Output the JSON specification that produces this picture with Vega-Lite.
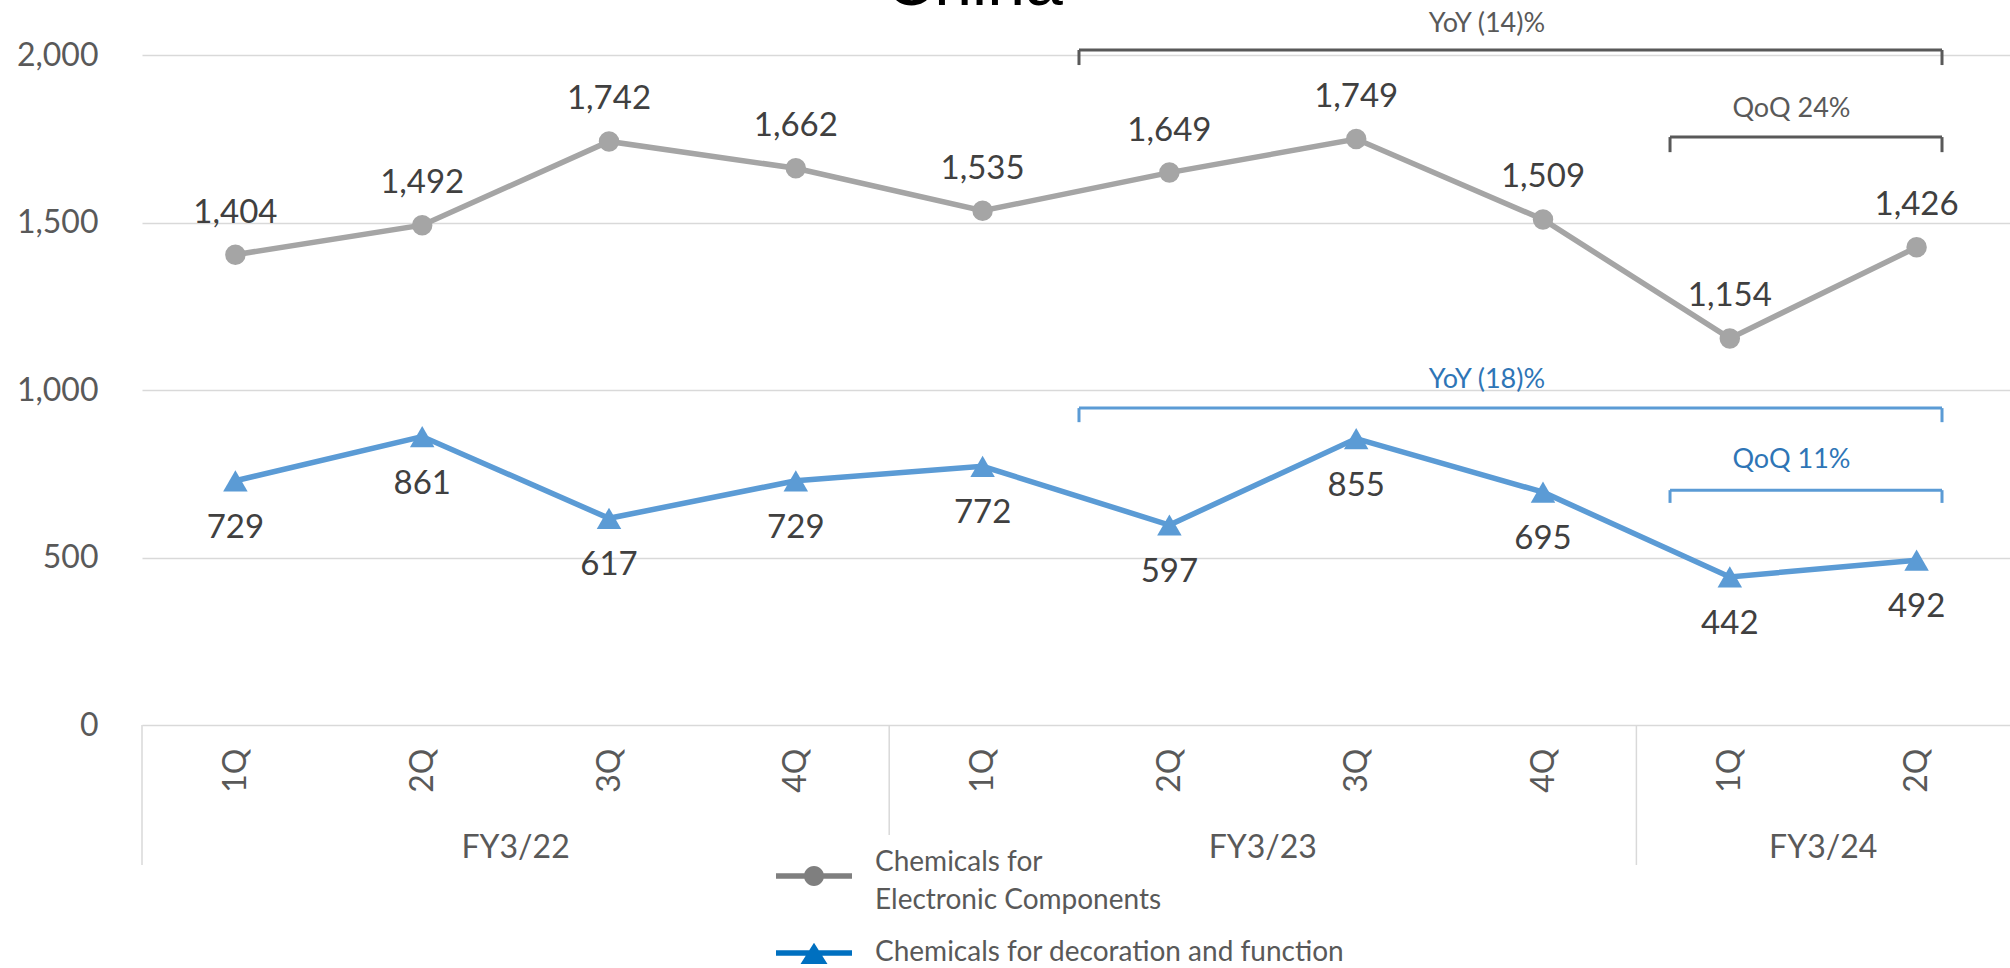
{
  "$schema": "https://vega.github.io/schema/vega-lite/v6.json",
  "width": 1868,
  "height": 670,
  "autosize": {"type": "none"},
  "padding": {"left": 142, "top": 55, "right": 0, "bottom": 243},
  "background": "white",
  "config": {"view": {"stroke": null}, "font": "Lato"},
  "datasets": {
    "sales": [
      {"q": 0, "quarter": "1Q", "fy": "FY3/22", "series": "Chemicals for Electronic Components", "value": 1404},
      {"q": 1, "quarter": "2Q", "fy": "FY3/22", "series": "Chemicals for Electronic Components", "value": 1492},
      {"q": 2, "quarter": "3Q", "fy": "FY3/22", "series": "Chemicals for Electronic Components", "value": 1742},
      {"q": 3, "quarter": "4Q", "fy": "FY3/22", "series": "Chemicals for Electronic Components", "value": 1662},
      {"q": 4, "quarter": "1Q", "fy": "FY3/23", "series": "Chemicals for Electronic Components", "value": 1535},
      {"q": 5, "quarter": "2Q", "fy": "FY3/23", "series": "Chemicals for Electronic Components", "value": 1649},
      {"q": 6, "quarter": "3Q", "fy": "FY3/23", "series": "Chemicals for Electronic Components", "value": 1749},
      {"q": 7, "quarter": "4Q", "fy": "FY3/23", "series": "Chemicals for Electronic Components", "value": 1509},
      {"q": 8, "quarter": "1Q", "fy": "FY3/24", "series": "Chemicals for Electronic Components", "value": 1154},
      {"q": 9, "quarter": "2Q", "fy": "FY3/24", "series": "Chemicals for Electronic Components", "value": 1426},
      {"q": 0, "quarter": "1Q", "fy": "FY3/22", "series": "Chemicals for decoration and function", "value": 729},
      {"q": 1, "quarter": "2Q", "fy": "FY3/22", "series": "Chemicals for decoration and function", "value": 861},
      {"q": 2, "quarter": "3Q", "fy": "FY3/22", "series": "Chemicals for decoration and function", "value": 617},
      {"q": 3, "quarter": "4Q", "fy": "FY3/22", "series": "Chemicals for decoration and function", "value": 729},
      {"q": 4, "quarter": "1Q", "fy": "FY3/23", "series": "Chemicals for decoration and function", "value": 772},
      {"q": 5, "quarter": "2Q", "fy": "FY3/23", "series": "Chemicals for decoration and function", "value": 597},
      {"q": 6, "quarter": "3Q", "fy": "FY3/23", "series": "Chemicals for decoration and function", "value": 855},
      {"q": 7, "quarter": "4Q", "fy": "FY3/23", "series": "Chemicals for decoration and function", "value": 695},
      {"q": 8, "quarter": "1Q", "fy": "FY3/24", "series": "Chemicals for decoration and function", "value": 442},
      {"q": 9, "quarter": "2Q", "fy": "FY3/24", "series": "Chemicals for decoration and function", "value": 492}
    ],
    "seps": [
      {"sx": -0.5, "sy1": 0, "sy2": -418},
      {"sx": 3.5, "sy1": 0, "sy2": -328},
      {"sx": 7.5, "sy1": 0, "sy2": -418}
    ],
    "fys": [
      {"fx": 1.5, "fyv": -397, "fy": "FY3/22"},
      {"fx": 5.5, "fyv": -397, "fy": "FY3/23"},
      {"fx": 8.5, "fyv": -397, "fy": "FY3/24"}
    ],
    "annot": [
      {"grp": "gray", "label": "YoY (14)%", "xa": 4.516, "xb": 9.136, "yl": 2015, "yt": 1970, "tx": 6.7, "ty": 2069},
      {"grp": "gray", "label": "QoQ 24%", "xa": 7.68, "xb": 9.136, "yl": 1755, "yt": 1710, "tx": 8.33, "ty": 1815},
      {"grp": "blue", "label": "YoY (18)%", "xa": 4.516, "xb": 9.136, "yl": 946, "yt": 904, "tx": 6.7, "ty": 1006},
      {"grp": "blue", "label": "QoQ 11%", "xa": 7.68, "xb": 9.136, "yl": 701, "yt": 663, "tx": 8.33, "ty": 767}
    ],
    "heading": [
      {"text": "China", "hx": 3.954, "hy": 2149}
    ]
  },
  "layer": [
    {
      "data": {"name": "sales"},
      "transform": [{"filter": "datum.series == 'Chemicals for Electronic Components'"}],
      "mark": {"type": "line", "color": "#a5a5a5", "strokeWidth": 5.5, "point": {"filled": true, "size": 420, "color": "#a5a5a5", "opacity": 1}},
      "encoding": {
        "x": {
          "field": "q", "type": "quantitative",
          "scale": {"domain": [-0.5, 9.5], "nice": false, "zero": false},
          "axis": {
            "title": null, "values": [0, 1, 2, 3, 4, 5, 6, 7, 8, 9],
            "labelExpr": "['1Q','2Q','3Q','4Q','1Q','2Q','3Q','4Q','1Q','2Q'][datum.value]",
            "labelAngle": 270, "labelPadding": 23, "labelFont": "Lato", "labelFontSize": 32,
            "labelColor": "#595959", "domain": false, "ticks": false, "grid": false, "labelOverlap": false
          }
        },
        "y": {
          "field": "value", "type": "quantitative",
          "scale": {"domain": [0, 2000], "nice": false},
          "axis": {
            "title": null, "values": [0, 500, 1000, 1500, 2000], "format": ",.0f",
            "labelFont": "Lato", "labelFontSize": 32, "labelColor": "#595959", "labelPadding": 44,
            "domain": false, "ticks": false, "grid": true, "gridColor": "#d9d9d9", "gridWidth": 1.5
          }
        }
      }
    },
    {
      "data": {"name": "sales"},
      "transform": [{"filter": "datum.series == 'Chemicals for decoration and function'"}],
      "mark": {"type": "line", "color": "#5b9bd5", "strokeWidth": 5.5, "point": {"filled": true, "size": 600, "shape": "triangle-up", "color": "#5b9bd5", "opacity": 1}},
      "encoding": {
        "x": {"field": "q", "type": "quantitative"},
        "y": {"field": "value", "type": "quantitative"}
      }
    },
    {
      "data": {"name": "seps"},
      "mark": {"type": "rule", "color": "#d9d9d9", "strokeWidth": 1.5},
      "encoding": {
        "x": {"field": "sx", "type": "quantitative"},
        "y": {"field": "sy1", "type": "quantitative"},
        "y2": {"field": "sy2"}
      }
    },
    {
      "data": {"name": "fys"},
      "mark": {"type": "text", "font": "Lato", "fontSize": 32, "color": "#595959", "baseline": "alphabetic", "align": "center"},
      "encoding": {
        "x": {"field": "fx", "type": "quantitative"},
        "y": {"field": "fyv", "type": "quantitative"},
        "text": {"field": "fy"}
      }
    },
    {
      "data": {"name": "heading"},
      "mark": {"type": "text", "font": "Liberation Sans", "fontSize": 68, "color": "#000000", "baseline": "alphabetic", "align": "center"},
      "encoding": {
        "x": {"field": "hx", "type": "quantitative"},
        "y": {"field": "hy", "type": "quantitative"},
        "text": {"field": "text"}
      }
    },
    {
      "data": {"name": "sales"},
      "transform": [{"filter": "datum.series == 'Chemicals for Electronic Components'"}],
      "mark": {"type": "text", "font": "Lato", "fontSize": 33, "color": "#404040", "baseline": "alphabetic", "align": "center", "dy": -32},
      "encoding": {
        "x": {"field": "q", "type": "quantitative"},
        "y": {"field": "value", "type": "quantitative"},
        "text": {"field": "value", "type": "quantitative", "format": ","}
      }
    },
    {
      "data": {"name": "sales"},
      "transform": [{"filter": "datum.series == 'Chemicals for decoration and function'"}],
      "mark": {"type": "text", "font": "Lato", "fontSize": 33, "color": "#404040", "baseline": "alphabetic", "align": "center", "dy": 57},
      "encoding": {
        "x": {"field": "q", "type": "quantitative"},
        "y": {"field": "value", "type": "quantitative"},
        "text": {"field": "value", "type": "quantitative", "format": ","}
      }
    },
    {
      "data": {"name": "annot"},
      "mark": {"type": "rule", "strokeWidth": 3},
      "encoding": {
        "x": {"field": "xa", "type": "quantitative"},
        "x2": {"field": "xb"},
        "y": {"field": "yl", "type": "quantitative"},
        "color": {"condition": {"test": "datum.grp == 'blue'", "value": "#5b9bd5"}, "value": "#595959"}
      }
    },
    {
      "data": {"name": "annot"},
      "mark": {"type": "rule", "strokeWidth": 3},
      "encoding": {
        "x": {"field": "xa", "type": "quantitative"},
        "y": {"field": "yl", "type": "quantitative"},
        "y2": {"field": "yt"},
        "color": {"condition": {"test": "datum.grp == 'blue'", "value": "#5b9bd5"}, "value": "#595959"}
      }
    },
    {
      "data": {"name": "annot"},
      "mark": {"type": "rule", "strokeWidth": 3},
      "encoding": {
        "x": {"field": "xb", "type": "quantitative"},
        "y": {"field": "yl", "type": "quantitative"},
        "y2": {"field": "yt"},
        "color": {"condition": {"test": "datum.grp == 'blue'", "value": "#5b9bd5"}, "value": "#595959"}
      }
    },
    {
      "data": {"name": "annot"},
      "mark": {"type": "text", "font": "Lato", "fontSize": 27, "baseline": "alphabetic", "align": "center"},
      "encoding": {
        "x": {"field": "tx", "type": "quantitative"},
        "y": {"field": "ty", "type": "quantitative"},
        "text": {"field": "label"},
        "color": {"condition": {"test": "datum.grp == 'blue'", "value": "#2e75b6"}, "value": "#595959"}
      }
    },
    {
      "data": {"name": "sales"},
      "mark": {"type": "point", "filled": true, "opacity": 0},
      "encoding": {
        "x": {"field": "q", "type": "quantitative"},
        "y": {"field": "value", "type": "quantitative"},
        "color": {
          "field": "series", "type": "nominal",
          "scale": {"domain": ["Chemicals for Electronic Components", "Chemicals for decoration and function"], "range": ["#7f7f7f", "#0070c0"]},
          "legend": {
            "orient": "none", "legendX": 634, "legendY": 783, "title": null, "padding": 0,
            "symbolSize": 5776, "symbolStrokeWidth": 0, "symbolOpacity": 1,
            "labelFont": "Lato", "labelFontSize": 28, "labelColor": "#595959", "labelOffset": 23, "labelLimit": 0,
            "rowPadding": -13,
            "labelExpr": "datum.label == 'Chemicals for Electronic Components' ? ['Chemicals for', 'Electronic Components'] : datum.label",
            "encode": {"labels": {"update": {
              "lineHeight": {"value": 38},
              "dy": {"signal": "datum.label == 'Chemicals for Electronic Components' ? -13 : 0"}
            }}}
          }
        },
        "shape": {
          "field": "series", "type": "nominal",
          "scale": {"domain": ["Chemicals for Electronic Components", "Chemicals for decoration and function"], "range": [
            "M-1,-0.075L1,-0.075L1,0.075L-1,0.075Z M-0.263,0A0.263,0.263 0 1,1 0.263,0A0.263,0.263 0 1,1 -0.263,0Z",
            "M-1,-0.075L1,-0.075L1,0.075L-1,0.075Z M0,-0.27L0.355,0.29L-0.355,0.29Z"
          ]}
        }
      }
    }
  ]
}
